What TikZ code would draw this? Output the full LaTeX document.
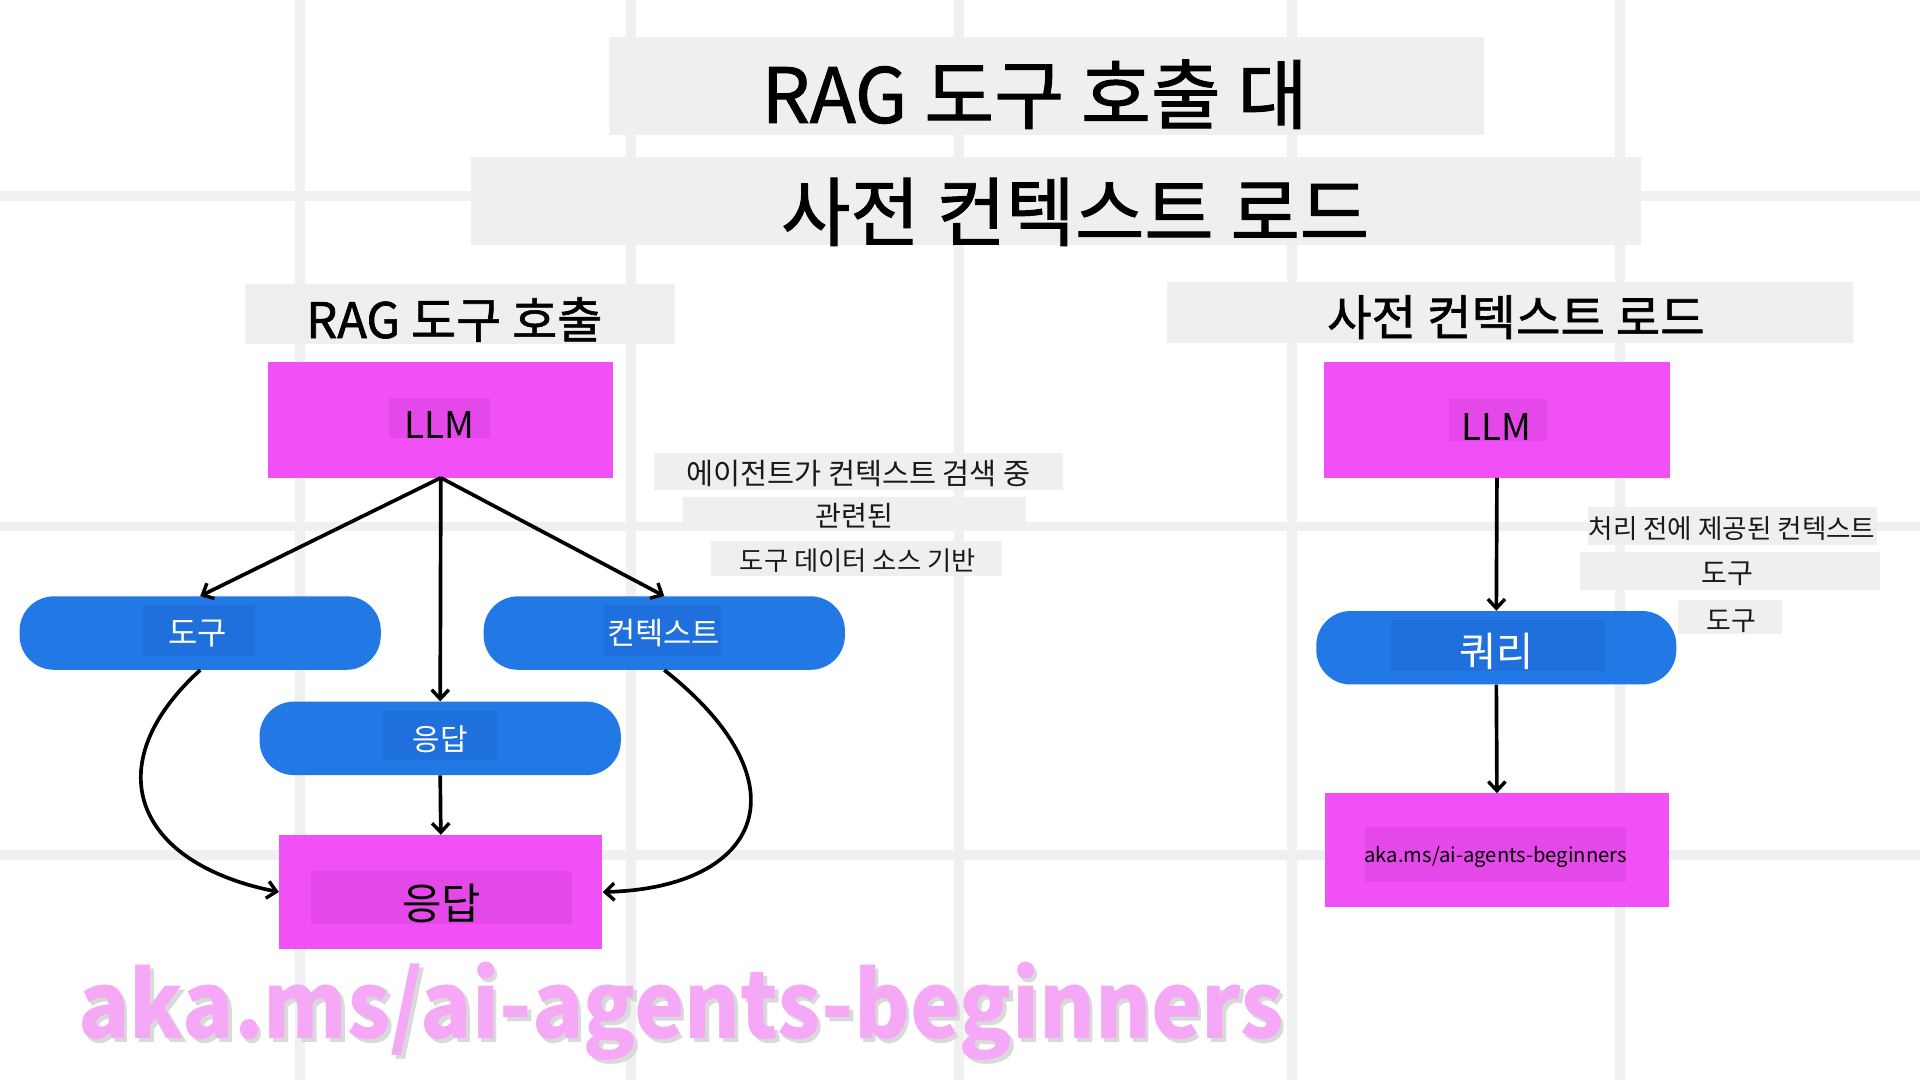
\documentclass[tikz,border=0pt]{standalone}
\usepackage{fontspec}
\setmainfont{Noto Sans CJK KR}
\newfontfamily\medf{Noto Sans CJK KR}[FakeBold=1.3]
\usetikzlibrary{arrows.meta}
\definecolor{gridc}{HTML}{F0F0F0}
\definecolor{boxgray}{HTML}{EFEFEF}
\definecolor{magc}{HTML}{F050F5}
\definecolor{magdark}{HTML}{E448E8}
\definecolor{bluec}{HTML}{2279E6}
\definecolor{bluedark}{HTML}{1F70DC}
\definecolor{textc}{HTML}{1A1A1A}
\definecolor{wmc}{HTML}{F5A8F5}
\definecolor{wmshadow}{HTML}{D9D9D9}
\newcommand{\fs}[1]{\fontsize{#1}{#1}\selectfont}
\begin{document}
\begin{tikzpicture}[x=1pt,y=-1pt,
  gridline/.style={draw=gridc,line width=8pt},
  graybox/.style={fill=boxgray,inner sep=0pt,text=black},
  magbox/.style={rectangle,fill=magc,inner sep=0pt,minimum width=282pt,minimum height=94pt},
  magin/.style={rectangle,fill=magdark,inner sep=0pt},
  pill/.style={rectangle,rounded corners=28pt,fill=bluec,inner sep=0pt,minimum width=295pt,minimum height=60pt},
  bluein/.style={rectangle,fill=bluedark,inner sep=0pt},
  lbl/.style={fill=boxgray,inner sep=0pt},
  txt/.style={inner sep=0pt,text=textc},
  conn/.style={draw=black,line width=3pt,-{Straight Barb[length=7.5pt,width=14pt,line width=2.8pt]}}
]
\useasboundingbox (0,0) rectangle (1568,882);
\fill[white] (0,0) rectangle (1568,882);
% grid
\foreach \gx in {245,515,783,1055,1323} \draw[gridline] (\gx,0) -- (\gx,882);
\foreach \gy in {160,430,698} \draw[gridline] (0,\gy) -- (1568,\gy);

% titles
\node[graybox,minimum width=715pt,minimum height=80pt] (t1) at (854.5,70) {};
\node[txt,text=black,font=\medf\fs{62}] (t1t) at (845,77) {RAG 도구 호출 대};
\node[graybox,minimum width=955pt,minimum height=72pt] (t2) at (862.5,164) {};
\node[txt,text=black,font=\medf\fs{61.5}] (t2t) at (878,173) {사전 컨텍스트 로드};
\node[graybox,minimum width=351pt,minimum height=49pt] (st1) at (375.5,256.5) {};
\node[txt,text=black,font=\medf\fs{40}] (st1t) at (371,261) {RAG 도구 호출};
\node[graybox,minimum width=560pt,minimum height=50pt] (st2) at (1233,255) {};
\node[txt,text=black,font=\medf\fs{39.5}] (st2t) at (1238,259) {사전 컨텍스트 로드};

% left diagram
\node[magbox] (llmL) at (360,343) {};
\node[magin,minimum width=82pt,minimum height=33pt] (llmLin) at (359,341.5) {};
\node[txt,text=black,font=\fs{30}] (llmLt) at (359,347) {LLM};

\node[pill] (tool) at (163.5,517) {};
\node[bluein,minimum width=91pt,minimum height=42pt] (toolin) at (162.5,515) {};
\node[txt,text=white,font=\fs{26}] (toolt) at (161.5,517) {도구};

\node[pill] (ctx) at (542.5,517) {};
\node[bluein,minimum width=96pt,minimum height=42pt] (ctxin) at (541,515) {};
\node[txt,text=white,font=\fs{25}] (ctxt) at (542,517) {컨텍스트};

\node[pill] (respP) at (359.5,603) {};
\node[bluein,minimum width=93pt,minimum height=40pt] (respPin) at (359.5,601) {};
\node[txt,text=white,font=\fs{24.5}] (respPt) at (359.5,604) {응답};

\node[magbox,minimum width=264pt,minimum height=93pt] (resp) at (360,728.5) {};
\node[magin,minimum width=213pt,minimum height=44pt] (respin) at (360.5,733) {};
\node[txt,text=black,font=\fs{35}] (respt) at (360.5,738) {응답};

\draw[conn] (llmL.south) -- (tool.north);
\draw[conn] (llmL.south) -- (ctx.north);
\draw[conn] (llmL.south) -- (respP.north);
\draw[conn] (respP.south) -- (resp.north);
\draw[conn] (tool.south) .. controls (78,625) and (110,705) .. (resp.west);
\draw[conn] (ctx.south) .. controls (660,640) and (622,725) .. (resp.east);

% left labels
\node[lbl,minimum width=334pt,minimum height=30pt] (la1) at (701,385) {};
\node[txt,font=\fs{24}] (la1t) at (701,387) {에이전트가 컨텍스트 검색 중};
\node[lbl,minimum width=280pt,minimum height=25pt] (la2) at (698,418.5) {};
\node[txt,font=\fs{23}] (la2t) at (698,421) {관련된};
\node[lbl,minimum width=237pt,minimum height=28pt] (la3) at (699.5,456) {};
\node[txt,font=\fs{21.5}] (la3t) at (700.5,458) {도구 데이터 소스 기반};

% right diagram
\node[magbox] (llmR) at (1222.5,343) {};
\node[magin,minimum width=80pt,minimum height=34pt] (llmRin) at (1223,343) {};
\node[txt,text=black,font=\fs{30}] (llmRt) at (1222,349) {LLM};

\node[pill,minimum width=294pt] (query) at (1222,529) {};
\node[bluein,minimum width=175pt,minimum height=42pt] (queryin) at (1223.5,527) {};
\node[txt,text=white,font=\fs{33}] (queryt) at (1222,532) {쿼리};

\node[magbox,minimum width=281pt,minimum height=93pt] (akabox) at (1222.5,694.5) {};
\node[magin,minimum width=213pt,minimum height=45pt] (akain) at (1221.5,697.5) {};
\node[txt,text=black,font=\fs{16.5}] (akat) at (1221.5,700) {aka.ms/ai-agents-beginners};

\draw[conn] (llmR.south) -- (query.north);
\draw[conn] (query.south) -- (akabox.north);

% right labels
\node[lbl,minimum width=236pt,minimum height=31pt] (lb1) at (1415,429.5) {};
\node[txt,font=\fs{21.7}] (lb1t) at (1414.5,432) {처리 전에 제공된 컨텍스트};
\node[lbl,minimum width=245pt,minimum height=31pt] (lb2) at (1412.5,466.5) {};
\node[txt,font=\fs{23}] (lb2t) at (1410.5,469) {도구};
\node[lbl,minimum width=85pt,minimum height=28pt] (lb3) at (1412.5,504) {};
\node[txt,font=\fs{22}] (lb3t) at (1414,507) {도구};

% watermark
\node[inner sep=0pt,text=wmshadow,font=\fs{75}\bfseries] (wms) at (559,829) {\scalebox{0.925}[1]{aka.ms/ai-agents-beginners}};
\node[inner sep=0pt,text=wmc,font=\fs{75}\bfseries] (wm) at (556,826) {\scalebox{0.925}[1]{aka.ms/ai-agents-beginners}};
\end{tikzpicture}
\end{document}
